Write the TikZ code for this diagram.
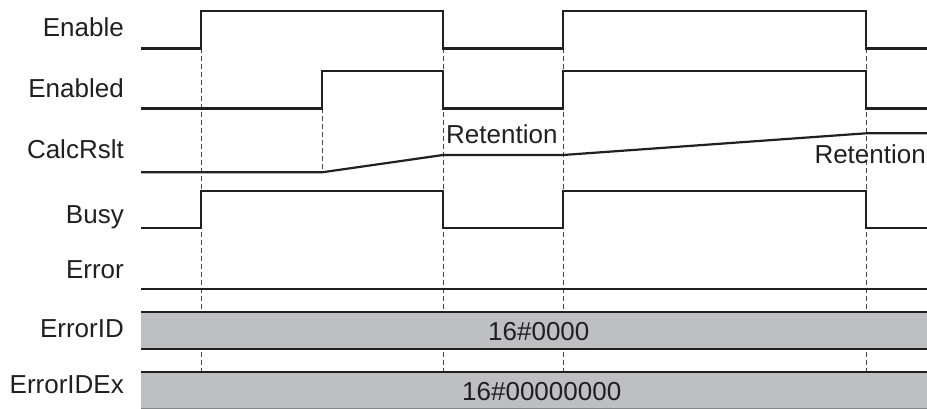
\documentclass[tikz,border=0pt]{standalone}
\usepackage{fontspec}
\setmainfont{Liberation Sans}
\definecolor{ink}{RGB}{35,31,32}
\definecolor{band}{RGB}{190,191,193}
\definecolor{dashc}{RGB}{70,70,70}
\begin{document}
\begin{tikzpicture}[x=1pt,y=-1pt,
  sig/.style={draw=ink,line width=2.2pt,line join=miter},
  guide/.style={draw=dashc,line width=1pt,dash pattern=on 5pt off 3pt},
  lbl/.style={anchor=base east,inner sep=0pt,text=ink,font=\fontsize{26}{30}\selectfont},
  txt/.style={inner sep=0pt,text=ink,font=\fontsize{26}{30}\selectfont},
  bandbox/.style={fill=band,draw=none}]
\useasboundingbox (0,0) rectangle (927,409);
% guides
\draw[guide] (201,48) -- (201,372);
\draw[guide] (322,108) -- (322,172);
\draw[guide] (443,48) -- (443,372);
\draw[guide] (563,48) -- (563,372);
\draw[guide] (866,48) -- (866,372);
% labels
\node[lbl] (lEnable) at (124,37) {Enable};
\node[lbl] (lEnabled) at (124,98) {Enabled};
\node[lbl] (lCalc) at (124,159) {CalcRslt};
\node[lbl] (lBusy) at (124,223) {Busy};
\node[lbl] (lError) at (124,278) {Error};
\node[lbl] (lErrID) at (124,337) {ErrorID};
\node[lbl] (lErrIDEx) at (124,393) {ErrorIDEx};
% Enable
\draw[sig] (141,48.5) -- (201,48.5) -- (201,11) -- (443,11) -- (443,48.5) -- (563,48.5) -- (563,11) -- (866,11) -- (866,48.5) -- (927,48.5);
% Enabled
\draw[sig] (141,108.5) -- (322,108.5) -- (322,71) -- (443,71) -- (443,108.5) -- (563,108.5) -- (563,71) -- (866,71) -- (866,108.5) -- (927,108.5);
% CalcRslt
\draw[sig] (141,172.3) -- (322,172.3) -- (443,155) -- (563,155) -- (866,133.3) -- (927,133.3);
\node[txt,anchor=base west] (ret1) at (446,144) {Retention};
\node[txt,anchor=base east] (ret2) at (926,164) {Retention};
% Busy
\draw[sig] (141,228.3) -- (201,228.3) -- (201,191) -- (443,191) -- (443,228.3) -- (563,228.3) -- (563,191) -- (866,191) -- (866,228.3) -- (927,228.3);
% Error
\draw[sig] (141,288.7) -- (927,288.7);
% ErrorID band
\fill[bandbox] (141,311.7) rectangle (927,349.3);
\draw[sig] (141,311.7) -- (927,311.7);
\draw[sig] (141,349.3) -- (927,349.3);
\node[txt,anchor=base west] (eid) at (488,340) {16\#0000};
% ErrorIDEx band
\fill[bandbox] (141,371.7) rectangle (927,408.3);
\draw[sig] (141,371.7) -- (927,371.7);
\draw[draw=band!70!black,line width=0.6pt] (141,408.3) -- (927,408.3);
\node[txt,anchor=base west] (eidex) at (462,400) {16\#00000000};
\end{tikzpicture}
\end{document}
